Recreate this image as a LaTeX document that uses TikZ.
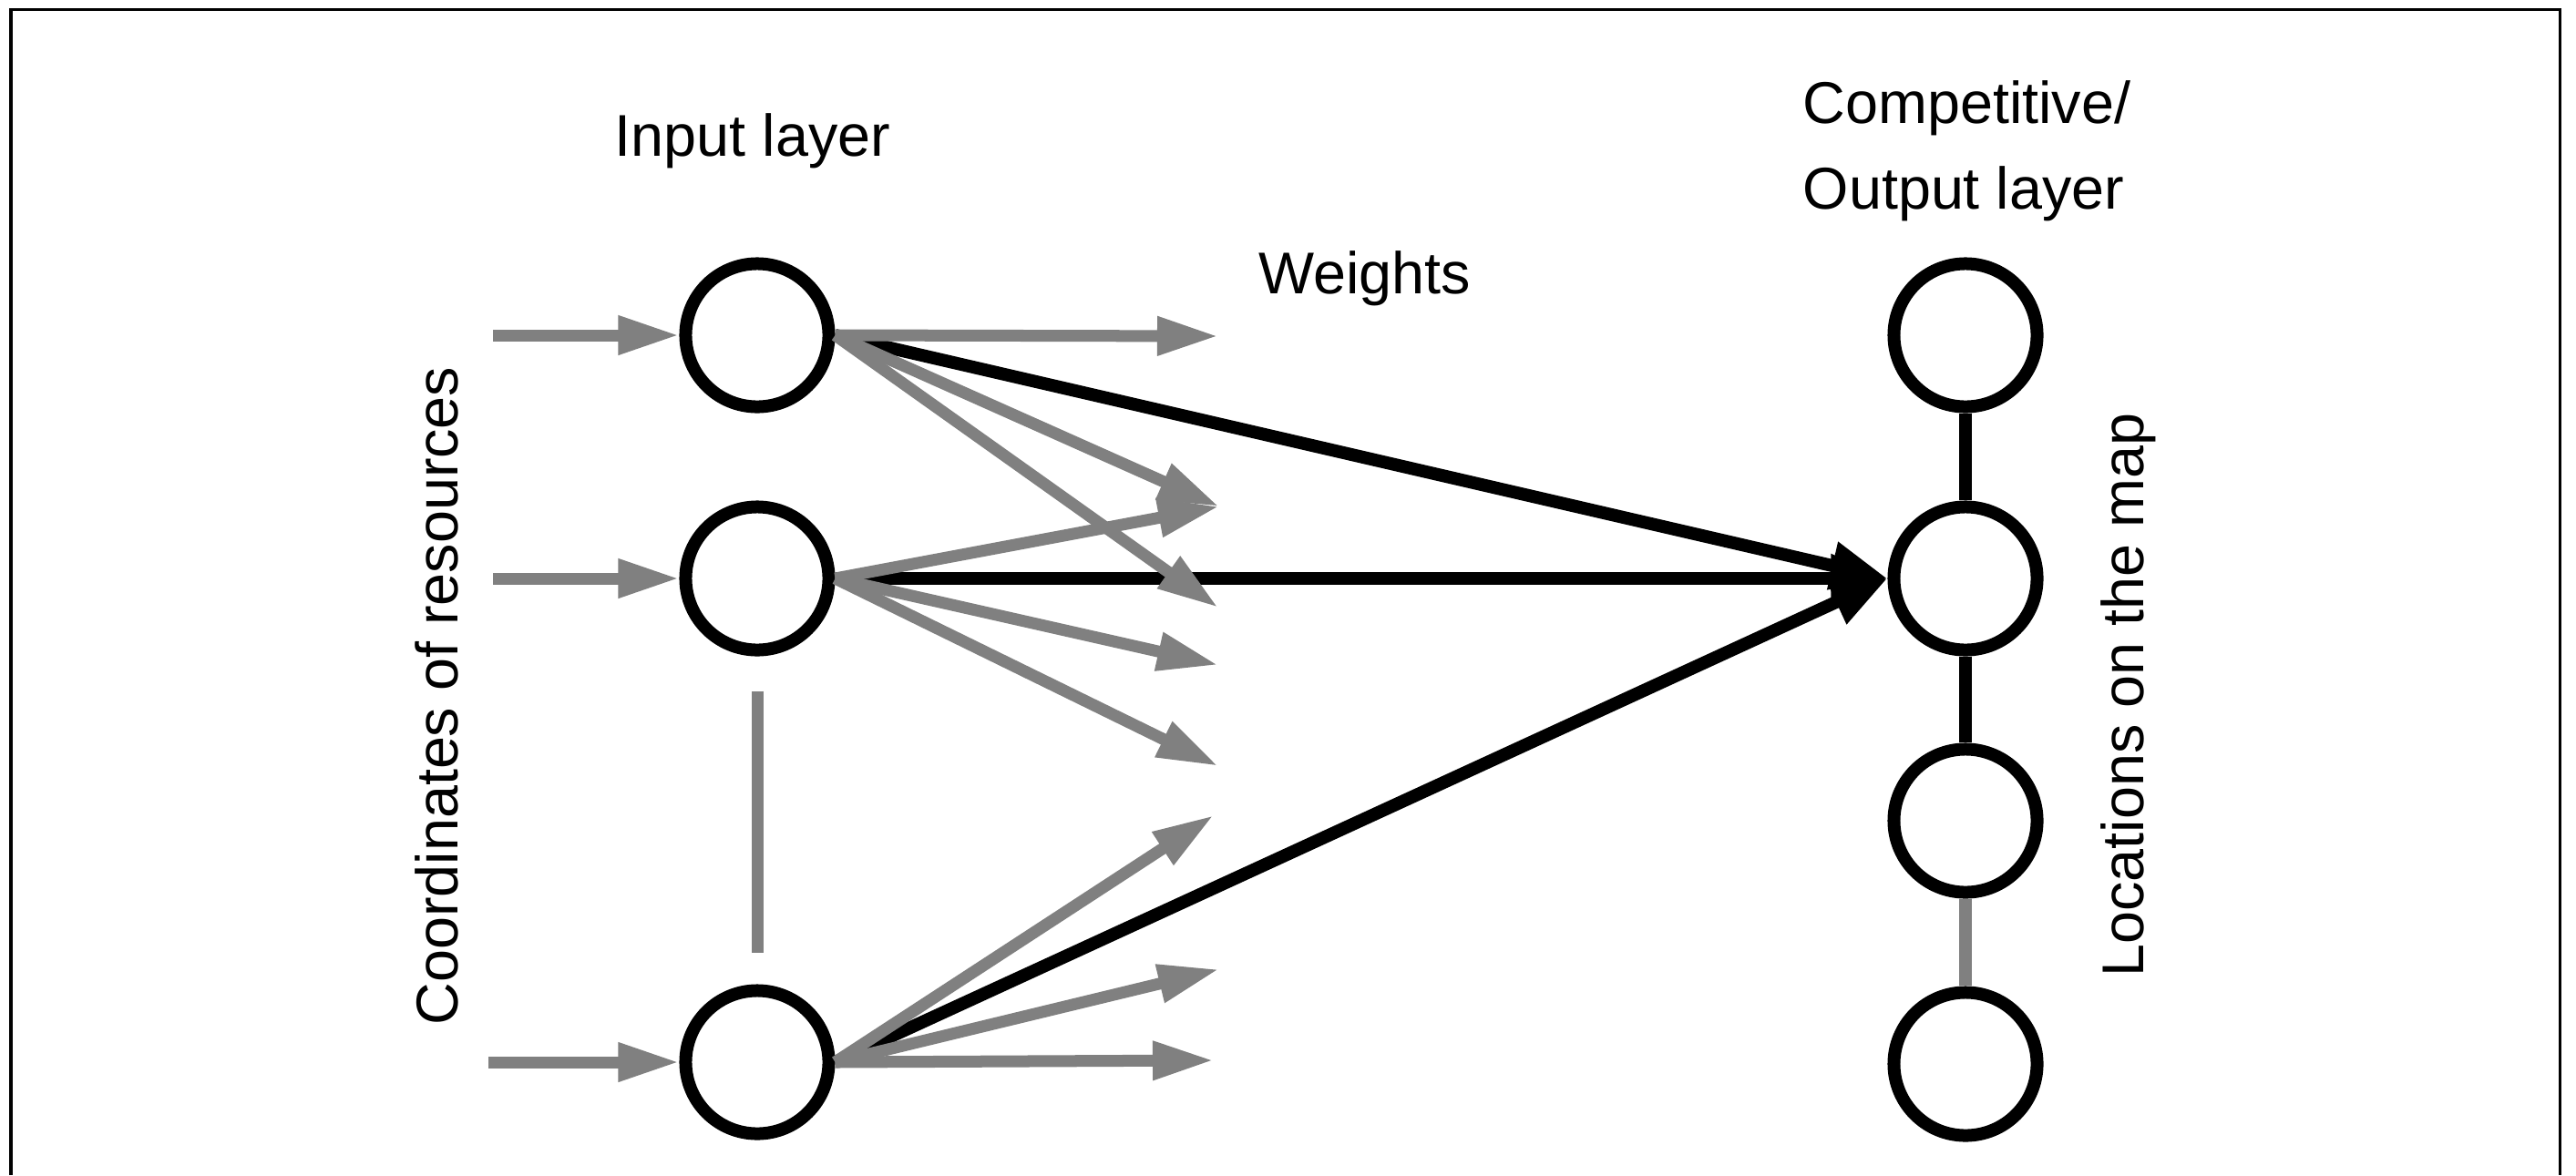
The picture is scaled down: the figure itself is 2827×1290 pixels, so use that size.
\documentclass[tikz,border=0pt]{standalone}
\usepackage{fontspec}
\setmainfont{Liberation Sans}
\usetikzlibrary{arrows.meta}
\definecolor{wgray}{RGB}{128,128,128}
\begin{document}
\begin{tikzpicture}[x=0.01cm, y=-0.01cm,
  neuron/.style={circle, draw=black, line width=0.14cm, minimum size=1.57cm, inner sep=0pt},
  feed/.style={draw=wgray, line width=0.13cm, -{Triangle[length=0.67cm, width=0.40cm]}},
  win/.style={draw=black, line width=0.14cm, -{Triangle[length=0.62cm, width=0.50cm]}},
  lbl/.style={inner sep=0pt, font=\fontsize{18.4}{22}\selectfont},
  link/.style={line width=0.14cm}]
\useasboundingbox (0,0) rectangle (2827,1290);

% open frame
\draw[line width=0.03cm, line join=miter] (12,1290) -- (12,10) -- (2809,10) -- (2809,1290);

% input layer
\node[neuron] (i1) at (831,368) {};
\node[neuron] (i2) at (831,635) {};
\node[neuron] (i3) at (831,1166) {};

% competitive / output layer
\node[neuron] (o1) at (2157,368) {};
\node[neuron] (o2) at (2157,635) {};
\node[neuron] (o3) at (2157,901) {};
\node[neuron] (o4) at (2157,1168) {};

% free ends of the inputs and weights
\coordinate (s1) at (541,368);
\coordinate (s2) at (541,635);
\coordinate (s3) at (536,1166);
\coordinate (w1) at (1337,369);
\coordinate (w2) at (1338,556);
\coordinate (w3) at (1337,667);
\coordinate (w4) at (1337,730);
\coordinate (w5) at (1337,841);
\coordinate (w6) at (1332,895);
\coordinate (w7) at (1338,1064);
\coordinate (w8) at (1332,1164);

% winning connections
\draw[win] (i1.east) -- (o2.west);
\draw[win] (i2.east) -- (o2.west);
\draw[win] (i3.east) -- (o2.west);

% inputs
\draw[feed] (s1) -- (i1.west);
\draw[feed] (s2) -- (i2.west);
\draw[feed] (s3) -- (i3.west);

% weights
\draw[feed] (i1.east) -- (w1);
\draw[feed] (i1.east) -- (w2);
\draw[feed] (i1.east) -- (w3);
\draw[feed] (i2.east) -- (w2);
\draw[feed] (i2.east) -- (w4);
\draw[feed] (i2.east) -- (w5);
\draw[feed] (i3.east) -- (w6);
\draw[feed] (i3.east) -- (w7);
\draw[feed] (i3.east) -- (w8);

% ellipsis between input neurons
\draw[wgray, line width=0.13cm, shorten <=0.38cm, shorten >=0.34cm] (i2.south) -- (i3.north);

% neighbourhood links on the map
\draw[link, black] (o1.south) -- (o2.north);
\draw[link, black] (o2.south) -- (o3.north);
\draw[link, wgray] (o3.south) -- (o4.north);

% labels
\node[lbl, anchor=base] (tin) at (826,171) {Input layer};
\node[lbl, anchor=base] (tw) at (1498,322) {Weights};
\node[lbl, anchor=base west] (tc) at (1978,135) {Competitive/};
\node[lbl, anchor=base west] (to) at (1978,229) {Output layer};
\node[lbl, anchor=base, rotate=90] (tcr) at (502,764) {Coordinates of resources};
\node[lbl, anchor=base, rotate=90] (tlm) at (2352,763) {Locations on the map};
\end{tikzpicture}
\end{document}
